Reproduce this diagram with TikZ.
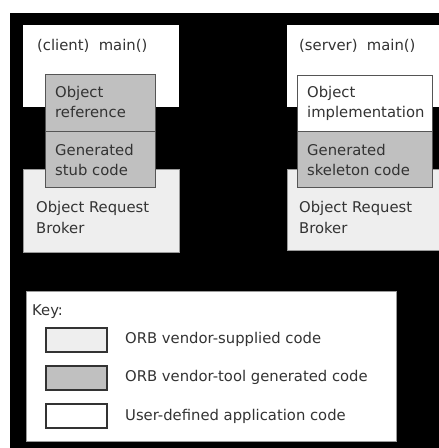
\documentclass[tikz,border=0pt]{standalone}
\usepackage{fontspec}
\setmainfont{DejaVu Sans}
\definecolor{txtc}{HTML}{333333}
\definecolor{orbc}{HTML}{EEEEEE}
\definecolor{genc}{HTML}{C0C0C0}
\definecolor{edgec}{HTML}{555555}
\definecolor{lightedge}{HTML}{9A9A9A}
\begin{document}
\begin{tikzpicture}[x=1pt,y=-1pt,
  font=\fontsize{14.8}{20}\selectfont,
  txt/.style={anchor=base west, inner sep=0pt, text=txtc},
  area/.style={anchor=north west, inner sep=0pt, outer sep=0pt},
  mainbox/.style={area, fill=white},
  orbbox/.style={area, fill=orbc, draw=lightedge, line width=0.8pt},
  genbox/.style={area, fill=genc, draw=edgec, line width=0.9pt},
  userbox/.style={area, fill=white, draw=edgec, line width=0.9pt},
  swatch/.style={area, draw=txtc, line width=1.3pt, minimum width=61pt, minimum height=24pt}]
\useasboundingbox (0,0) rectangle (439,448);
\clip (0,0) rectangle (439,448);
\fill[white] (0,0) rectangle (439,448);
\fill[black] (10,13) rectangle (439,448);

% client side
\node[mainbox, minimum width=156pt, minimum height=82pt] (cmain) at (23,25) {};
\node[orbbox, minimum width=156pt, minimum height=83pt] (corb) at (23,169) {};
\node[genbox, minimum width=110pt, minimum height=57pt] (cref) at (45,74) {};
\node[genbox, minimum width=110pt, minimum height=56pt] (cstub) at (45,131) {};

% server side
\node[mainbox, minimum width=156pt, minimum height=82pt] (smain) at (287,25) {};
\node[orbbox, minimum width=156pt, minimum height=81pt] (sorb) at (287,169) {};
\node[userbox, minimum width=135.5pt, minimum height=56pt] (simpl) at (297,75) {};
\node[genbox, minimum width=135.5pt, minimum height=56pt] (sskel) at (297,131) {};

% texts
\node[txt] (t1) at (37,50) {(client)\ \ main()};
\node[txt] (t2) at (55,97) {Object};
\node[txt] (t3) at (55,117) {reference};
\node[txt] (t4) at (55,155) {Generated};
\node[txt] (t5) at (55,175) {stub code};
\node[txt] (t6) at (36,212.5) {Object Request};
\node[txt] (t7) at (36,233) {Broker};

\node[txt] (u1) at (299,50) {(server)\ \ main()};
\node[txt] (u2) at (307,97) {Object};
\node[txt] (u3) at (307,117) {implementation};
\node[txt] (u4) at (307,155) {Generated};
\node[txt] (u5) at (307,175) {skeleton code};
\node[txt] (u6) at (299,212.5) {Object Request};
\node[txt] (u7) at (299,233) {Broker};

% key
\node[area, fill=white, draw=lightedge, line width=0.8pt, minimum width=370pt, minimum height=150pt] (key) at (26,291) {};
\node[txt] (k0) at (32,315) {Key:};
\node[swatch, fill=orbc] (s1) at (46,328) {};
\node[swatch, fill=genc] (s2) at (46,366) {};
\node[swatch, fill=white] (s3) at (46,404) {};
\node[txt] (k1) at (125,343) {ORB vendor-supplied code};
\node[txt] (k2) at (125,381.5) {ORB vendor-tool generated code};
\node[txt] (k3) at (125,420) {User-defined application code};
\end{tikzpicture}
\end{document}
